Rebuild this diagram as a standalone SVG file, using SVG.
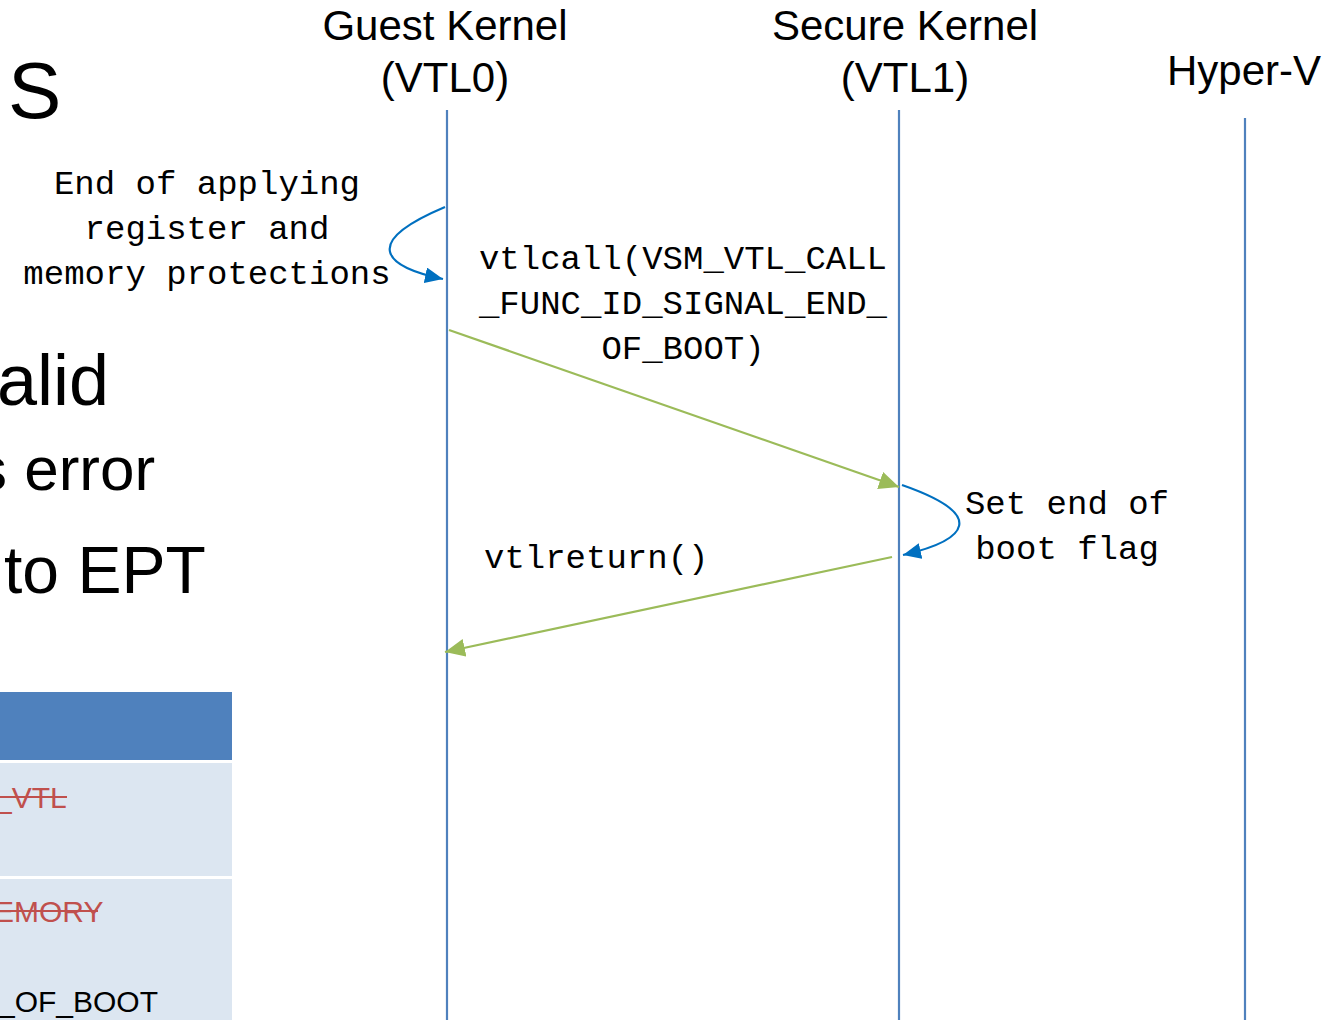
<svg xmlns="http://www.w3.org/2000/svg" width="1327" height="1020" viewBox="0 0 1327 1020">
  <style>
    .head { font-family: "Liberation Sans", Arial, sans-serif; font-size: 42px; fill: #000; text-anchor: middle; }
    .big { font-family: "Liberation Sans", Arial, sans-serif; fill: #000; }
    .mono { font-family: "Liberation Mono", "DejaVu Sans Mono", monospace; font-size: 34px; fill: #000; }
    .mid { text-anchor: middle; }
    .life { stroke: #4f81bd; stroke-width: 2.2; fill: none; }
    .msg { stroke: #9bbb59; stroke-width: 2.2; fill: none; marker-end: url(#greenHead); }
    .self { stroke: #0070c0; stroke-width: 2.2; fill: none; marker-end: url(#blueHead); }
    .cell { font-family: "Liberation Sans", Arial, sans-serif; font-size: 30px; }
    .struck { fill: #c0504d; }
  </style>
  <defs>
    <marker id="greenHead" markerUnits="userSpaceOnUse" markerWidth="22" markerHeight="18" refX="20" refY="9" orient="auto">
      <path d="M0,0 L20,9 L0,18 Z" fill="#9bbb59"/>
    </marker>
    <marker id="blueHead" markerUnits="userSpaceOnUse" markerWidth="20" markerHeight="16" refX="18" refY="8" orient="auto">
      <path d="M0,0 L18,8 L0,16 Z" fill="#0070c0"/>
    </marker>
  </defs>

  <rect width="1327" height="1020" fill="#fff"/>

  <!-- slide text on the left edge -->
  <g id="slide-text">
    <text class="big" x="8" y="118" font-size="80">S</text>
    <text class="big" x="-3" y="405" font-size="72">alid</text>
    <text class="big" x="-24" y="490" font-size="62">s error</text>
    <text class="big" x="4" y="593" font-size="66">to EPT</text>
  </g>

  <!-- partial table -->
  <g id="table">
    <rect x="0" y="692" width="232" height="68" fill="#4f81bd"/>
    <rect x="0" y="763" width="232" height="113" fill="#dce6f1"/>
    <rect x="0" y="879" width="232" height="141" fill="#dce6f1"/>
    <text class="cell struck" x="-5" y="808">_VTL</text>
    <line x1="0" y1="797" x2="67" y2="797" stroke="#c0504d" stroke-width="2"/>
    <text class="cell struck" x="-6" y="922">EMORY</text>
    <line x1="0" y1="911" x2="98" y2="911" stroke="#c0504d" stroke-width="2"/>
    <text class="cell" x="-2" y="1012">_OF_BOOT</text>
  </g>

  <!-- lifeline headers -->
  <g id="guest-kernel">
    <text class="head" x="445" y="40">Guest Kernel</text>
    <text class="head" x="445" y="92">(VTL0)</text>
    <line class="life" x1="447" y1="110" x2="447" y2="1020"/>
  </g>
  <g id="secure-kernel">
    <text class="head" x="905" y="40">Secure Kernel</text>
    <text class="head" x="905" y="92">(VTL1)</text>
    <line class="life" x1="899" y1="110" x2="899" y2="1020"/>
  </g>
  <g id="hyper-v">
    <text class="head" x="1244" y="85">Hyper-V</text>
    <line class="life" x1="1245" y1="118" x2="1245" y2="1020"/>
  </g>

  <!-- messages -->
  <g id="connectors">
    <path class="self" d="M445,207 C355,245 390,268 443,279"/>
    <path class="msg" d="M449,330 L899,487"/>
    <path class="self" d="M902,485 C988,515 968,540 903,555"/>
    <path class="msg" d="M892,557 L445,652"/>
  </g>

  <!-- message labels -->
  <g id="labels">
    <text class="mono mid" x="207" y="194">End of applying</text>
    <text class="mono mid" x="207" y="239">register and</text>
    <text class="mono mid" x="207" y="284">memory protections</text>
    <text class="mono mid" x="683" y="269">vtlcall(VSM_VTL_CALL</text>
    <text class="mono mid" x="683" y="314">_FUNC_ID_SIGNAL_END_</text>
    <text class="mono mid" x="683" y="359">OF_BOOT)</text>
    <text class="mono mid" x="1067" y="514">Set end of</text>
    <text class="mono mid" x="1067" y="559">boot flag</text>
    <text class="mono" x="484" y="568">vtlreturn()</text>
  </g>
</svg>
